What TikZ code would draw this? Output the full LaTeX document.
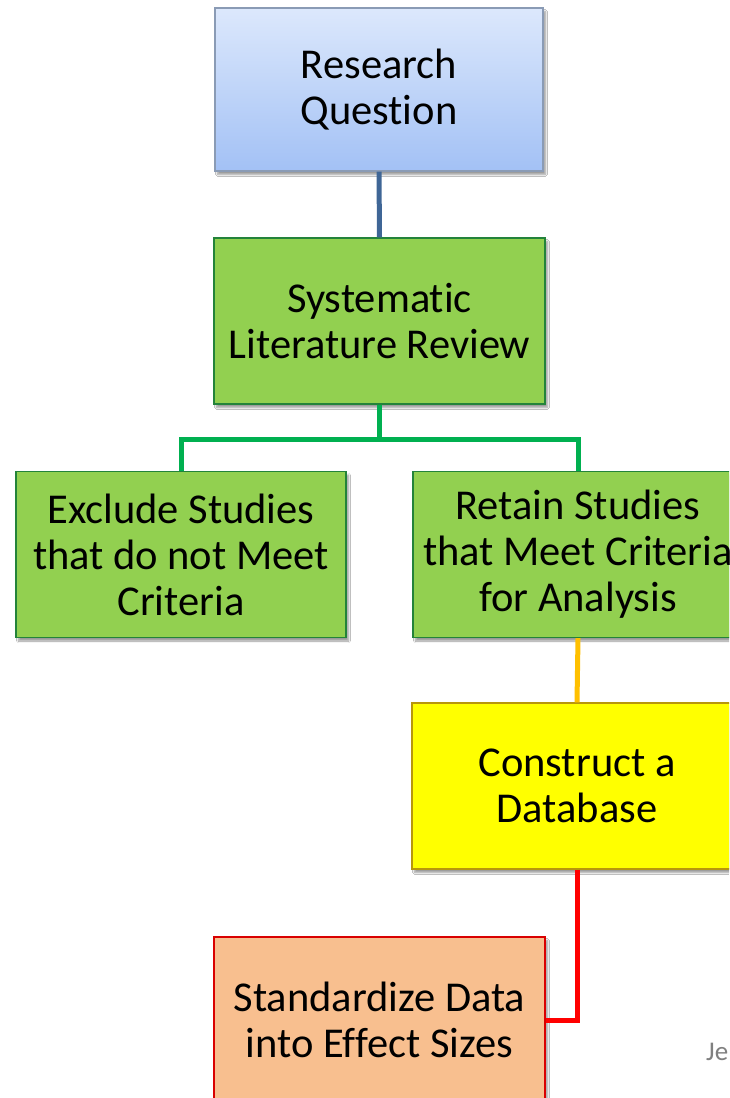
\documentclass[tikz,border=0pt]{standalone}
\usepackage{fontspec}
\setmainfont[Ligatures={NoCommon}]{Carlito}
\usetikzlibrary{shadows.blur}
\definecolor{bluetop}{HTML}{DCE8FC}
\definecolor{bluebot}{HTML}{A3C1F5}
\definecolor{blueedge}{HTML}{8A9BB5}
\definecolor{bluelink}{HTML}{3F6696}
\definecolor{leaf}{HTML}{92D050}
\definecolor{leafedge}{HTML}{23833A}
\definecolor{greenlink}{HTML}{00B050}
\definecolor{amber}{HTML}{FFC000}
\definecolor{lemon}{HTML}{FFFF00}
\definecolor{lemonedge}{HTML}{B8960C}
\definecolor{peach}{HTML}{F8BF8F}
\definecolor{redlink}{HTML}{FF0000}
\tikzset{
  x=1pt, y=-1pt,
  stage/.style={rectangle, minimum width=330pt, minimum height=166pt,
    align=center, inner sep=0pt, line width=1.4pt,
    font=\fontsize{42.5}{46}\selectfont,
    blur shadow={shadow xshift=2.5pt, shadow yshift=-3.5pt, shadow blur steps=6, shadow opacity=40}},
  link/.style={line width=5pt},
}
\begin{document}
\begin{tikzpicture}
\useasboundingbox (0,0) rectangle (729,1098);
\clip (0,0) rectangle (729,1098);
\fill[white] (0,0) rectangle (729,1098);

% process boxes
\node[stage, draw=blueedge, top color=bluetop, bottom color=bluebot,
  minimum width=328pt, minimum height=163pt] (rq) at (379,89.5) {Research\\Question};
\node[stage, draw=leafedge, fill=leaf, minimum width=331pt] (slr) at (379.5,321) {Systematic\\Literature Review};
\node[stage, draw=leafedge, fill=leaf] (ex) at (181,554.5) {Exclude Studies\\that do not Meet\\Criteria};
\node[stage, draw=leafedge, fill=leaf] (ret) at (578,554.5) {Retain Studies\\that Meet Criteria\\for Analysis};
\node[stage, draw=lemonedge, fill=lemon] (db) at (577,786) {Construct a\\Database};
\node[stage, draw=redlink!85!black, fill=peach, minimum width=331pt] (es) at (379.5,1020) {Standardize Data\\into Effect Sizes};

% connectors
\draw[link, bluelink] (rq.south) -- (slr.north);
\draw[link, greenlink] (slr.south) -- ++(0,35) coordinate (fork)
  -| (ex.north);
\draw[link, greenlink] (fork) -| (ret.north);
\draw[link, amber] (ret.south) -- (db.north);
\draw[link, redlink] (db.south) |- (es.east);

% footer text
\node[anchor=west, inner sep=0pt, text=black!50, font=\fontsize{27}{30}\selectfont] (foot) at (706,1052) {Je};
\end{tikzpicture}
\end{document}
